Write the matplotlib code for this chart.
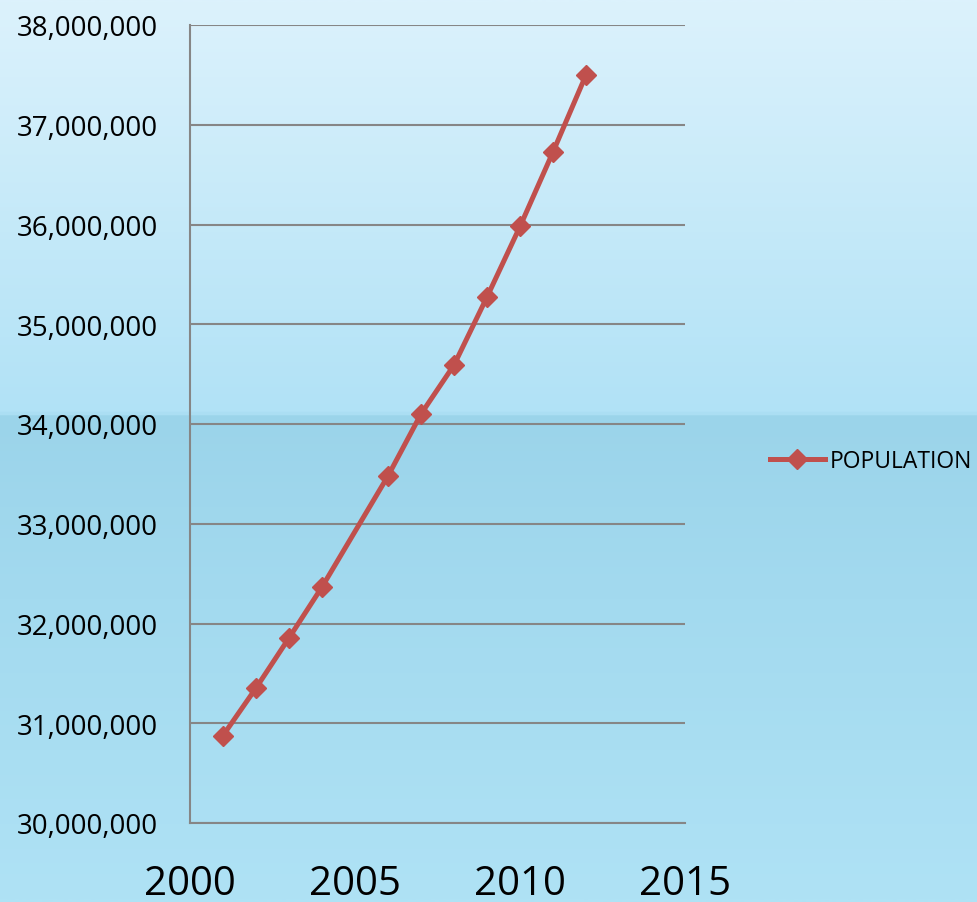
import numpy as np
import matplotlib
matplotlib.use('Agg')
import matplotlib.pyplot as plt
from matplotlib.colors import LinearSegmentedColormap
from matplotlib.ticker import FuncFormatter

# population by year (no value for 2005, line joins 2004 -> 2006)
years = [2001, 2002, 2003, 2004, 2006, 2007, 2008, 2009, 2010, 2011, 2012]
population = [30877000, 31353000, 31855000, 32366000, 33479000, 34100000,
              34591000, 35273000, 35980000, 36727000, 37499000]
x_ticks = [2000, 2005, 2010, 2015]
y_ticks = list(range(30000000, 38000001, 1000000))

plt.rcParams['font.family'] = ['Open Sans', 'DejaVu Sans']

W, H = 978, 903
fig = plt.figure(figsize=(W / 100, H / 100), dpi=100)

# background: light gradient with a darker band from the middle down
bg = fig.add_axes([0, 0, 1, 1], zorder=-10)
bg.axis('off')
stops = [(0.0, '#dcf2fc'), (415 / H - 0.001, '#b1e2f6'), (415 / H, '#9bd4ea'),
         (600 / H, '#a3daef'), (1.0, '#afe2f5')]
cmap = LinearSegmentedColormap.from_list('bg', stops)
grad = np.linspace(0, 1, 2000).reshape(-1, 1)
bg.imshow(grad, aspect='auto', cmap=cmap, extent=[0, 1, 0, 1], origin='upper')
bg.set_xlim(0, 1)
bg.set_ylim(0, 1)

ax = fig.add_axes([190 / W, (H - 824) / H, (685 - 190) / W, (824 - 26) / H])
ax.patch.set_alpha(0)

ax.plot(years, population, color='#c0504d', lw=3.6, marker='D', ms=10.5,
        label='POPULATION', zorder=3)

ax.set_xlim(2000, 2015)
ax.set_ylim(30000000, 38000000)
ax.set_xticks(x_ticks)
ax.set_yticks(y_ticks)
ax.yaxis.set_major_formatter(FuncFormatter(lambda v, p: '{:,.0f}'.format(v)))
ax.grid(axis='y', color='#868686', lw=1.5, zorder=1)
ax.set_axisbelow(True)

for s in ['top', 'right']:
    ax.spines[s].set_visible(False)
for s in ['left', 'bottom']:
    ax.spines[s].set_color('#868686')
    ax.spines[s].set_linewidth(1.5)

ax.tick_params(axis='y', length=0, pad=23, labelsize=20)
ax.tick_params(axis='x', length=0, pad=29, labelsize=29)

fig.legend(loc='center left', bbox_to_anchor=(770 / W, 1 - 462 / H),
           frameon=False, fontsize=16.5, handlelength=2.4, handletextpad=0.2,
           borderpad=0, borderaxespad=0)

fig.savefig('out.png', dpi=100)
